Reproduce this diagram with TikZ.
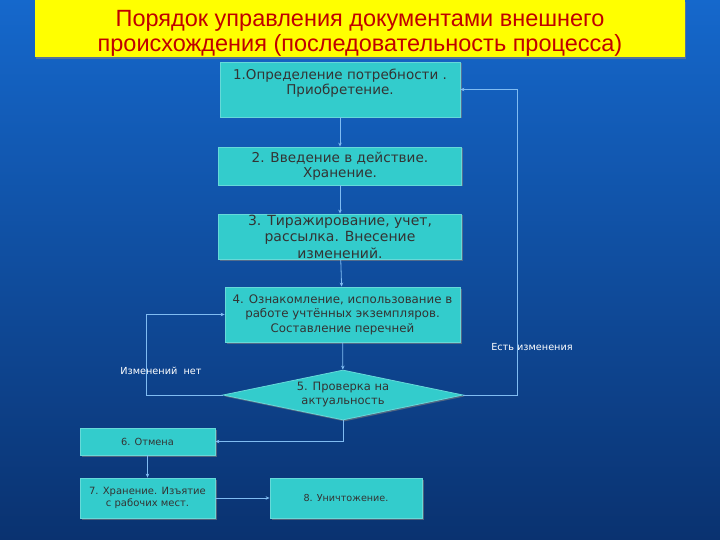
\documentclass[tikz,border=0pt]{standalone}
\usepackage{fontspec}
\setmainfont{DejaVu Sans}
\newfontfamily\titlefont{Liberation Sans}
\usetikzlibrary{arrows.meta,calc,positioning,shapes.geometric,shadows}

\definecolor{slideTop}{HTML}{1568CC}
\definecolor{slideBot}{HTML}{0A3270}
\definecolor{boxFill}{HTML}{33CCCC}
\definecolor{lineBlue}{HTML}{80BCF2}
\definecolor{titleRed}{HTML}{C00000}
\definecolor{titleYellow}{HTML}{FFFF00}

\begin{document}
\begin{tikzpicture}[x=1pt,y=-1pt,
    stepbox/.style={draw=boxFill!75!white, fill=boxFill, line width=0.8pt,
      drop shadow={shadow xshift=1.5pt, shadow yshift=-1.5pt, opacity=0.6},
      text=black!80, align=center, inner sep=0pt},
    link/.style={draw=lineBlue, line width=0.8pt, -{Stealth[length=4pt,width=3.5pt]}},
    note/.style={text=white, font=\fontsize{9.7}{11}\selectfont, inner sep=0pt}
  ]
  \useasboundingbox (0,0) rectangle (720,540);
  \shade[top color=slideTop, bottom color=slideBot] (0,0) rectangle (720,540);

  % title
  \fill[titleYellow, drop shadow={shadow xshift=1pt, shadow yshift=-2pt, opacity=0.6}]
    (35,0) rectangle (685,57);
  \node[text=titleRed, align=center, inner sep=0pt,
    font=\titlefont\fontsize{23.5}{25}\selectfont]
    (title) at (360,33) {Порядок управления документами внешнего\\происхождения (последовательность процесса)};

  % main column
  \node[stepbox, minimum width=240pt, minimum height=55pt, text depth=15pt,
    font=\fontsize{13.5}{15}\selectfont]
    (need) at (340,89.5) {1.Определение потребности .\\Приобретение.};
  \node[stepbox, minimum width=243pt, minimum height=38pt,
    font=\fontsize{13.6}{15}\selectfont]
    (intro) at (340,166) {2. Введение в действие.\\Хранение.};
  \node[stepbox, minimum width=243pt, minimum height=45pt,
    font=\fontsize{14}{16.5}\selectfont]
    (copy) at (340,236.5) {3. Тиражирование, учет,\\рассылка. Внесение\\изменений.};
  \node[stepbox, minimum width=235pt, minimum height=55pt,
    font=\fontsize{11.8}{14.5}\selectfont]
    (use) at (342.5,314.5) {4. Ознакомление, использование в\\работе учтённых экземпляров.\\Составление перечней};
  \node[stepbox, diamond, aspect=4.8, minimum width=240pt, minimum height=50pt,
    font=\fontsize{11.5}{14}\selectfont]
    (check) at (343,395) {5. Проверка на\\актуальность};

  % lower boxes
  \node[stepbox, minimum width=135pt, minimum height=27pt,
    font=\fontsize{9.8}{12}\selectfont]
    (cancel) at (147.5,441.5) {6. Отмена};
  \node[stepbox, minimum width=135pt, minimum height=40pt,
    font=\fontsize{10}{12}\selectfont]
    (keep) at (147.5,498) {7. Хранение. Изъятие\\с рабочих мест.};
  \node[stepbox, minimum width=152pt, minimum height=40pt,
    font=\fontsize{9.6}{12}\selectfont]
    (destroy) at (346,498) {8. Уничтожение.};

  % labels
  \node[note] (nochange) at (161,371) {Изменений\ \ нет};
  \node[note] (haschange) at (532,347) {Есть изменения};

  % connectors
  \draw[link] (need) -- (intro);
  \draw[link] (intro) -- (copy);
  \draw[link] (copy) -- (use);
  \draw[link] (use) -- (check);
  \draw[link] (check.west) -- ++(-76,0) |- (use.west);
  \draw[link] (check.east) -- ++(54,0) |- (need.east);
  \draw[link] (check.south) |- (cancel.east);
  \draw[link] (cancel) -- (keep);
  \draw[link] (keep) -- (destroy);
\end{tikzpicture}
\end{document}
